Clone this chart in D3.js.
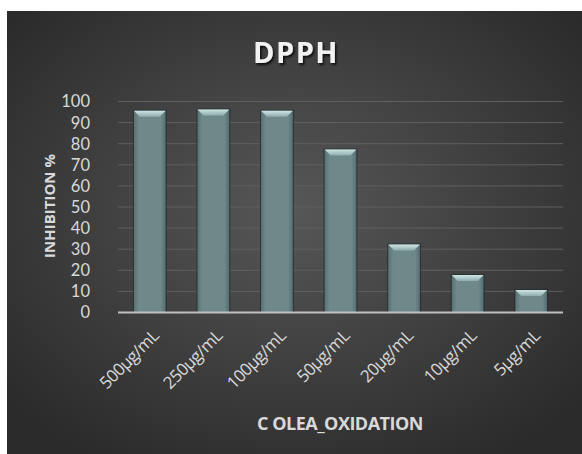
<!DOCTYPE html>
<html><head><meta charset="utf-8">
<script src="https://cdn.jsdelivr.net/npm/d3@7"></script>
<style>html,body{margin:0;padding:0;background:#fff;}svg{display:block;}</style>
</head><body>
<script>
const categories = ["500µg/mL","250µg/mL","100µg/mL","50µg/mL","20µg/mL","10µg/mL","5µg/mL"];
const inhibition = [95.4, 96.0, 95.4, 77.0, 32.0, 17.5, 10.4];
const yTicks = [0,10,20,30,40,50,60,70,80,90,100];
const chartTitle = "DPPH";
const xTitle = "C OLEA_OXIDATION";
const yTitle = "INHIBITION %";

const W = 582, H = 454;
const svg = d3.select("body").append("svg").attr("width", W).attr("height", H);
const defs = svg.append("defs");

const bg = defs.append("radialGradient").attr("id","bg").attr("cx","50%").attr("cy","45%").attr("r","65%");
bg.append("stop").attr("offset","0%").attr("stop-color","#575757");
bg.append("stop").attr("offset","100%").attr("stop-color","#2b2b2b");

const barG = defs.append("linearGradient").attr("id","barg").attr("x1","0").attr("x2","1").attr("y1","0").attr("y2","0");
barG.append("stop").attr("offset","0%").attr("stop-color","#587274");
barG.append("stop").attr("offset","15%").attr("stop-color","#6f898b");
barG.append("stop").attr("offset","85%").attr("stop-color","#6f898b");
barG.append("stop").attr("offset","100%").attr("stop-color","#546d6f");

const topG = defs.append("linearGradient").attr("id","topg").attr("x1","0").attr("x2","0").attr("y1","0").attr("y2","1");
topG.append("stop").attr("offset","0%").attr("stop-color","#cfe5e5");
topG.append("stop").attr("offset","100%").attr("stop-color","#8fabac");

const shadow = defs.append("filter").attr("id","ts").attr("x","-10%").attr("y","-10%").attr("width","130%").attr("height","140%");
shadow.append("feDropShadow").attr("dx",1.5).attr("dy",2).attr("stdDeviation",1.2).attr("flood-color","#000").attr("flood-opacity",0.8);

svg.append("rect").attr("x",7).attr("y",11).attr("width",W-7).attr("height",H-11).attr("fill","url(#bg)");

const x = d3.scaleBand().domain(categories).range([118, 563]).paddingInner(0.5).paddingOuter(0.25);
const y = d3.scaleLinear().domain([0,100]).range([312, 101]);

// gridlines
svg.append("g").selectAll("line").data(yTicks.filter(d=>d>0)).join("line")
  .attr("x1",118).attr("x2",563).attr("y1",d=>y(d)+0.5).attr("y2",d=>y(d)+0.5)
  .attr("stroke","#5f5f5f").attr("stroke-width",1);

// y axis labels
const yAxis = d3.axisLeft(y).tickValues(yTicks).tickSize(0).tickPadding(0);
const ya = svg.append("g").attr("transform","translate(90,0)").call(yAxis);
ya.select(".domain").remove();
ya.selectAll("text").attr("fill","#d9d9d9").attr("font-family","Lato, sans-serif").attr("font-size",16.5).attr("dy","0.36em");

// bars
const bars = svg.append("g").selectAll("g").data(categories).join("g");
bars.append("rect")
  .attr("x",d=>x(d)-1).attr("y",(d,i)=>y(inhibition[i])-1)
  .attr("width",x.bandwidth()+2).attr("height",(d,i)=>y(0)-y(inhibition[i])+1)
  .attr("fill","#1e2626").attr("opacity",0.7);
bars.append("rect")
  .attr("x",d=>x(d)).attr("y",(d,i)=>y(inhibition[i]))
  .attr("width",x.bandwidth()).attr("height",(d,i)=>y(0)-y(inhibition[i]))
  .attr("fill","url(#barg)");
bars.append("path")
  .attr("d",(d,i)=>{
    const x0=x(d), x1=x(d)+x.bandwidth(), t=y(inhibition[i]), b=6;
    return `M${x0},${t}L${x1},${t}L${x1-b},${t+b}L${x0+b},${t+b}Z`;
  }).attr("fill","url(#topg)");

// x axis line
svg.append("line").attr("x1",118).attr("x2",563).attr("y1",312.5).attr("y2",312.5)
  .attr("stroke","#bfbfbf").attr("stroke-width",2);

// x labels
const xAxis = d3.axisBottom(x).tickSize(0).tickPadding(0);
const xa = svg.append("g").attr("transform","translate(0,312)").call(xAxis);
xa.select(".domain").remove();
xa.selectAll("text")
  .attr("fill","#d9d9d9").attr("font-family","'Open Sans', sans-serif").attr("font-size",17)
  .attr("text-anchor","end").attr("dy",0).attr("letter-spacing",-0.6)
  .attr("transform","translate(10,25) rotate(-45)");

// titles
svg.append("text").attr("x",296).attr("y",63).attr("text-anchor","middle")
  .attr("font-family","'Open Sans', sans-serif").attr("font-weight","bold").attr("font-size",29)
  .attr("fill","#f2f2f2").attr("filter","url(#ts)").attr("letter-spacing",1.5).text(chartTitle);

svg.append("text").attr("x",340).attr("y",430).attr("text-anchor","middle")
  .attr("font-family","'Open Sans', sans-serif").attr("font-weight","bold").attr("font-size",18)
  .attr("fill","#d9d9d9").attr("letter-spacing",-0.5).text(xTitle);

svg.append("text").attr("transform","translate(55,206) rotate(-90)").attr("text-anchor","middle")
  .attr("font-family","'Open Sans', sans-serif").attr("font-weight","bold").attr("font-size",15)
  .attr("fill","#d9d9d9").text(yTitle);
</script>
</body></html>
